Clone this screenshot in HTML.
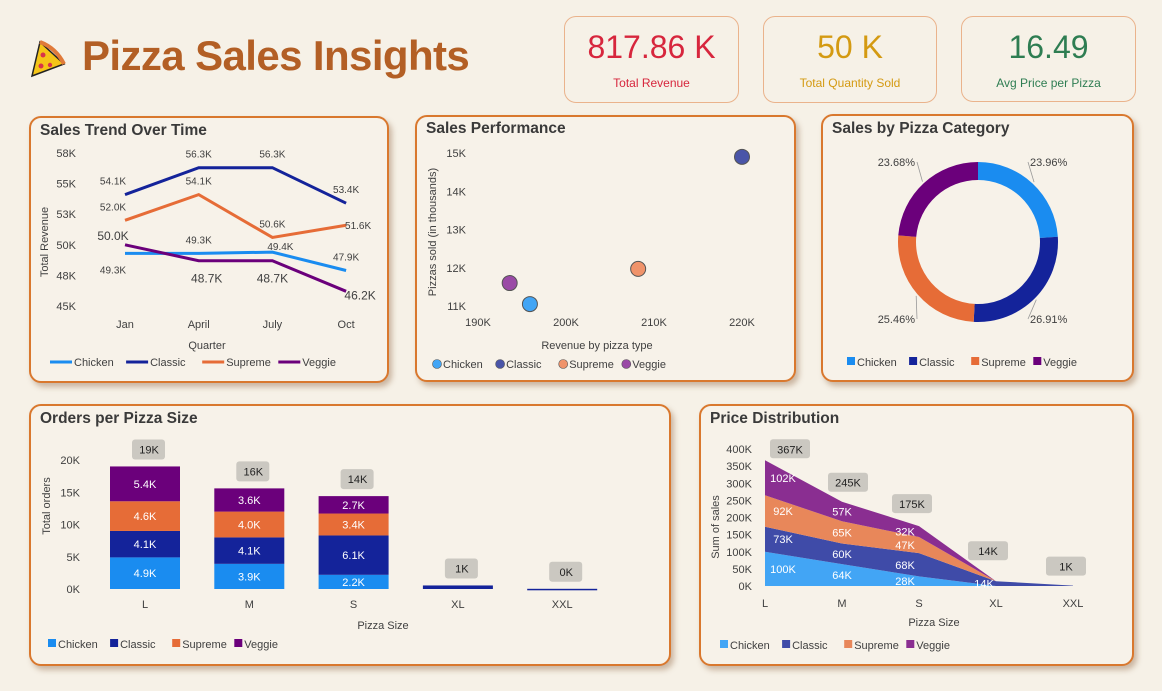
<!DOCTYPE html>
<html><head><meta charset="utf-8">
<style>
body{margin:0;width:1162px;height:691px;background:#f6f1e7;font-family:"Liberation Sans",sans-serif;overflow:hidden;position:relative}
.card{position:absolute;border:2px solid #d9782e;border-radius:12px;background:#f7f2e9;box-shadow:3px 4px 6px rgba(120,70,30,.35);box-sizing:border-box}
.card h2{margin:0;position:absolute;left:9px;top:4px;font-size:15.5px;font-weight:bold;color:#3a3a3a}
.kpi{position:absolute;border:1.5px solid #eab38c;border-radius:12px;box-sizing:border-box;text-align:center}
.kpi .v{font-size:32px;margin-top:12px}
.kpi .l{font-size:12px;margin-top:10px}
#title{position:absolute;left:82px;top:32px;font-size:42px;font-weight:bold;color:#b35f25;letter-spacing:-0.6px}
svg text{font-family:"Liberation Sans",sans-serif}
</style></head><body>
<div style="position:absolute;left:30px;top:38px">
<svg width="40" height="42" viewBox="0 0 40 42"><path d="M10 4 L34 26 L2 38 Z" fill="#f5c518" stroke="#222" stroke-width="1.5"/><path d="M10 4 Q26 10 34 26" fill="none" stroke="#e07a3a" stroke-width="4"/><circle cx="13" cy="17" r="2.5" fill="#d8344a"/><circle cx="11" cy="28" r="2.5" fill="#d8344a"/><circle cx="20" cy="27" r="2.2" fill="#d8344a"/></svg></div>
<div id="title">Pizza Sales Insights</div>
<div class="kpi" style="left:564px;top:16px;width:175px;height:87px"><div class="v" style="color:#d7263d">817.86 K</div><div class="l" style="color:#d7263d">Total Revenue</div></div>
<div class="kpi" style="left:763px;top:16px;width:174px;height:87px"><div class="v" style="color:#d49a12">50 K</div><div class="l" style="color:#d49a12">Total Quantity Sold</div></div>
<div class="kpi" style="left:961px;top:16px;width:175px;height:86px"><div class="v" style="color:#2e7d52">16.49</div><div class="l" style="color:#2e7d52">Avg Price per Pizza</div></div>

<div class="card" style="left:29px;top:116px;width:360px;height:267px"><h2>Sales Trend Over Time</h2></div>
<div class="card" style="left:415px;top:115px;width:381px;height:267px"><h2 style="top:3px">Sales Performance</h2></div>
<div class="card" style="left:821px;top:114px;width:313px;height:268px"><h2>Sales by Pizza Category</h2></div>
<div class="card" style="left:29px;top:404px;width:642px;height:262px"><h2>Orders per Pizza Size</h2></div>
<div class="card" style="left:699px;top:404px;width:435px;height:262px"><h2>Price Distribution</h2></div>

<svg id="s" width="1162" height="691" style="position:absolute;left:0;top:0" xmlns="http://www.w3.org/2000/svg"></svg>
<script>
// ---- Line chart data
const quarters=["Jan","April","July","Oct"];
const lineChicken=[49.3,49.3,49.4,47.9];
const lineClassic=[54.1,56.3,56.3,53.4];
const lineSupreme=[52.0,54.1,50.6,51.6];
const lineVeggie=[50.0,48.7,48.7,46.2];
const lineTicks=[45,47.5,50,52.5,55,57.5];
const lineTickLabels=["45K","48K","50K","53K","55K","58K"];
// ---- Scatter data
const scatterNames=["Chicken","Classic","Supreme","Veggie"];
const scatterRevenue=[195.9,220,208.2,193.6];
const scatterQty=[11.05,14.9,11.97,11.6];
const scatterXTicks=[190,200,210,220];
const scatterYTicks=[11,12,13,14,15];
// ---- Donut data
const catNames=["Chicken","Classic","Supreme","Veggie"];
const catShares=[23.96,26.91,25.46,23.68];
// ---- Stacked bar data
const sizes=["L","M","S","XL","XXL"];
const ordChicken=[4.9,3.9,2.2,0,0];
const ordClassic=[4.1,4.1,6.1,0.55,0.03];
const ordSupreme=[4.6,4.0,3.4,0,0];
const ordVeggie=[5.4,3.6,2.7,0,0];
const ordTotalLabels=["19K","16K","14K","1K","0K"];
const ordTicks=[0,5,10,15,20];
// ---- Area data
const salesChicken=[100,64,28,0,0];
const salesClassic=[73,60,68,14,1];
const salesSupreme=[92,65,47,0,0];
const salesVeggie=[102,57,32,0,0];
const salesTotalLabels=["367K","245K","175K","14K","1K"];
const salesTicks=[0,50,100,150,200,250,300,350,400];

const S=document.getElementById('s');
const NS="http://www.w3.org/2000/svg";
function el(tag,attrs,parent,text){const e=document.createElementNS(NS,tag);for(const k in attrs)e.setAttribute(k,attrs[k]);if(text!==undefined)e.textContent=text;(parent||S).appendChild(e);return e;}
function txt(x,y,s,o){o=o||{};const t=el('text',{x:x,y:y,'font-size':o.fs||11,fill:o.fill||'#404040','text-anchor':o.a||'middle','font-weight':o.fw||'normal'},o.p,s);if(o.rot)t.setAttribute('transform','rotate(-90 '+x+' '+y+')');return t;}
function legend(x,y,items,colors,type,parent){let cx=x;items.forEach((n,i)=>{let g=el('g',{},parent);


if(type==='line')el('line',{x1:cx,y1:y-4,x2:cx+22,y2:y-4,stroke:colors[i],'stroke-width':3},g),cx+=24;
else if(type==='dot')el('circle',{cx:cx+5,cy:y-4,r:4.5,fill:colors[i],stroke:'#555','stroke-width':0.6},g),cx+=11;
else el('rect',{x:cx,y:y-9,width:8,height:8,fill:colors[i]},g),cx+=10;
const t=txt(cx,y,n,{a:'start',fs:11,p:g});cx+=n.length*6.3+8;});}

// ===== Line chart
const C4=['#1a8cf0','#14239a','#e66c37','#6b007b'];
(function(){const g=el('g',{});


const xs=i=>125+i*73.7, ys=v=>306-(v-45)*12.24;
lineTicks.forEach((t,i)=>txt(76,ys(t)+4,lineTickLabels[i],{a:'end',p:g}));
quarters.forEach((q,i)=>txt(xs(i),328,q,{p:g}));
txt(207,349,"Quarter",{p:g});
txt(48,242,"Total Revenue",{rot:1,p:g});
const series=[lineChicken,lineClassic,lineSupreme,lineVeggie];
series.forEach((s,k)=>{const p=el('polyline',{points:s.map((v,i)=>xs(i)+','+ys(v)).join(' '),fill:'none',stroke:C4[k],'stroke-width':3},g);

});
const off=[[[ -12,16],[0,-14],[0,-20],[0,-14]],[[ -12,-14],[0,-14],[0,-14],[0,-14]],[[ -12,-14],[0,-14],[0,-14],[12,0]],[[ -12,-9],[8,18],[0,18],[14,4]]];
series.forEach((s,k)=>s.forEach((v,i)=>{let dx=off[k][i][0],dy=off[k][i][1];if(k==0&&i==2){dx=8;dy=-6}
txt(xs(i)+dx,ys(v)+dy+4,v.toFixed(1)+"K",{fs:(k==3?12:10),p:g});}));
legend(50,366,catNames,C4,'line',g);})();

// ===== Scatter
(function(){const g=el('g',{});


const xs=v=>478+(v-190)*8.8, ys=v=>306-(v-11)*38.25;
const SC=['#42a5f5','#4a55a8','#f0936a','#9a4aa6'];
scatterXTicks.forEach(t=>txt(xs(t),326,t+"K",{p:g}));
scatterYTicks.forEach(t=>txt(466,ys(t)+4,t+"K",{a:'end',p:g}));
txt(597,349,"Revenue by pizza type",{p:g});
txt(436,232,"Pizzas sold (in thousands)",{rot:1,p:g});
scatterNames.forEach((n,i)=>{const c=el('circle',{cx:xs(scatterRevenue[i]),cy:ys(scatterQty[i]),r:7.5,fill:SC[i],stroke:'#555','stroke-width':1},g);

});
legend(432,368,scatterNames,SC,'dot',g);})();

// ===== Donut
(function(){const g=el('g',{});


const cx=978,cy=242,R=80,r=62;let a=-Math.PI/2;const tot=catShares.reduce((x,y)=>x+y,0);
const lab=[[1030,166],[1030,323],[915,323],[915,166]];
catShares.forEach((v,i)=>{const a2=a+v/tot*2*Math.PI;const lg=(a2-a)>Math.PI?1:0;
const p=(rr,an)=>(cx+rr*Math.cos(an))+','+(cy+rr*Math.sin(an));
const path=el('path',{d:'M'+p(R,a)+' A'+R+','+R+' 0 '+lg+' 1 '+p(R,a2)+' L'+p(r,a2)+' A'+r+','+r+' 0 '+lg+' 0 '+p(r,a)+' Z',fill:C4[i]},g);


const m=(a+a2)/2;el('line',{x1:cx+(R+2)*Math.cos(m),y1:cy+(R+2)*Math.sin(m),x2:lab[i][0]+(i<2?-2:2),y2:lab[i][1]-4,stroke:'#999','stroke-width':0.8},g);
txt(lab[i][0],lab[i][1],v.toFixed(2)+"%",{a:i<2?'start':'end',p:g});a=a2;});
legend(847,366,catNames,C4,'sq',g);})();

// ===== Stacked bars
(function(){const g=el('g',{});


const xs=i=>145+i*104.3, ys=v=>589-v*6.45, bw=70;
ordTicks.forEach(t=>txt(80,ys(t)+4,t+"K",{a:'end',p:g}));
sizes.forEach((s,i)=>txt(xs(i),608,s,{p:g}));
txt(383,629,"Pizza Size",{p:g});
txt(50,506,"Total orders",{rot:1,p:g});
const series=[ordChicken,ordClassic,ordSupreme,ordVeggie];
sizes.forEach((s,i)=>{let base=0;series.forEach((ser,k)=>{const v=ser[i];if(v<=0)return;
const rc=el('rect',{x:xs(i)-bw/2,y:ys(base+v),width:bw,height:Math.max(v*6.45,1.5),fill:C4[k]},g);


if(v>1)txt(xs(i),ys(base+v/2)+4,v.toFixed(1)+"K",{fill:'#fff',p:g});base+=v;});
el('rect',{x:xs(i)-17+4,y:ys(base)-27,width:33,height:20,rx:3,fill:'#cbc8c1'},g);
txt(xs(i)+4,ys(base)-13,ordTotalLabels[i],{fs:11,fill:'#222',p:g});});
legend(48,648,catNames,C4,'sq',g);})();

// ===== Area
(function(){const g=el('g',{});


const xs=i=>765+i*77, ys=v=>586-v*0.3425;
const AC=['#42a5f5','#3f4ba8','#e8875a','#8a2e91'];
salesTicks.forEach(t=>txt(752,ys(t)+4,t+"K",{a:'end',p:g}));
sizes.forEach((s,i)=>txt(xs(i),607,s,{p:g}));
txt(934,626,"Pizza Size",{p:g});
txt(719,527,"Sum of sales",{rot:1,p:g});
const series=[salesChicken,salesClassic,salesSupreme,salesVeggie];
let base=sizes.map(()=>0);
series.forEach((ser,k)=>{const top=ser.map((v,i)=>base[i]+v);
let d='M'+sizes.map((s,i)=>xs(i)+','+ys(top[i])).join(' L');
for(let i=sizes.length-1;i>=0;i--)d+=' L'+xs(i)+','+ys(base[i]);
const p=el('path',{d:d+'Z',fill:AC[k]},g);


ser.forEach((v,i)=>{if(i<3)txt(xs(i)+(i==0?18:i==2?-14:0),ys(base[i]+v/2)+4,Math.round(v)+"K",{fill:'#fff',fs:11,p:g});});
base=top;});
txt(xs(3)-12,ys(7)+4,"14K",{fill:'#fff',p:g});
const boxX=[25,6,-7,-8,-7], boxUp=[11,19,22,30,19];
sizes.forEach((s,i)=>{const bx=xs(i)+boxX[i], by=ys(base[i])-boxUp[i];
el('rect',{x:bx-20,y:by-10,width:40,height:19,rx:3,fill:'#cbc8c1'},g);
txt(bx,by+4,salesTotalLabels[i],{fill:'#222',p:g});});
legend(720,649,catNames,AC,'sq',g);})();
</script>
</body></html>
